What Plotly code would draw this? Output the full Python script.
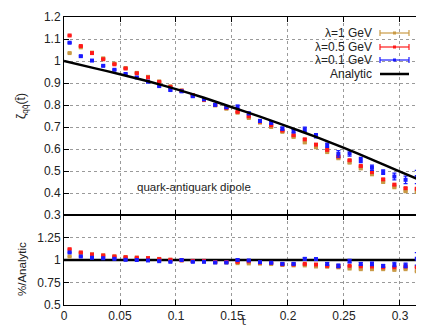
import plotly.graph_objects as go

# ---------------- data ----------------
t_bins = [0.005, 0.015, 0.025, 0.035, 0.045, 0.055, 0.065, 0.075, 0.085, 0.095,
          0.105, 0.115, 0.125, 0.135, 0.145, 0.155, 0.165, 0.175, 0.185, 0.195,
          0.205, 0.215, 0.225, 0.235, 0.245, 0.255, 0.265, 0.275, 0.285, 0.295,
          0.305, 0.315, 0.325]

zeta_l1 = [1.036, 1.062, 1.038, 1.012, 0.988, 0.968, 0.946, 0.928, 0.907, 0.885,
           0.866, 0.845, 0.822, 0.798, 0.783, 0.765, 0.741, 0.720, 0.700, 0.678,
           0.655, 0.630, 0.608, 0.586, 0.558, 0.538, 0.512, 0.485, 0.450, 0.426,
           0.408, 0.404, 0.398]
zeta_l05 = [1.116, 1.068, 1.036, 1.008, 0.985, 0.966, 0.944, 0.925, 0.905, 0.882,
            0.865, 0.845, 0.824, 0.800, 0.787, 0.769, 0.749, 0.725, 0.708, 0.684,
            0.663, 0.644, 0.620, 0.596, 0.566, 0.549, 0.523, 0.495, 0.462, 0.438,
            0.422, 0.419, 0.412]
zeta_l01 = [1.083, 1.022, 1.002, 0.978, 0.960, 0.941, 0.925, 0.906, 0.886, 0.868,
            0.862, 0.840, 0.826, 0.801, 0.790, 0.792, 0.762, 0.728, 0.719, 0.693,
            0.681, 0.689, 0.660, 0.617, 0.578, 0.579, 0.550, 0.515, 0.495, 0.475,
            0.460, 0.473, 0.430]
err_l1 = [0.002] * 20 + [0.003] * 13
err_l05 = [0.002] * 20 + [0.003] * 13
err_l01 = [0.003, 0.003, 0.003, 0.003, 0.003, 0.004, 0.004, 0.004, 0.004, 0.004,
           0.005, 0.005, 0.005, 0.005, 0.006, 0.008, 0.006, 0.006, 0.006, 0.007,
           0.008, 0.010, 0.010, 0.010, 0.015, 0.012, 0.012, 0.012, 0.010, 0.015,
           0.017, 0.030, 0.035]

ratio_l1 = [1.039, 1.075, 1.063, 1.052, 1.040, 1.032, 1.026, 1.022, 1.012, 1.003,
            0.996, 0.988, 0.985, 0.975, 0.972, 0.965, 0.962, 0.960, 0.955, 0.945,
            0.940, 0.940, 0.928, 0.925, 0.918, 0.905, 0.898, 0.898, 0.898, 0.890,
            0.898, 0.875, 0.875]
ratio_l05 = [1.120, 1.084, 1.061, 1.050, 1.039, 1.031, 1.025, 1.020, 1.010, 1.002,
             0.997, 0.990, 0.990, 0.978, 0.978, 0.980, 0.985, 0.972, 0.968, 0.952,
             0.950, 0.957, 0.950, 0.935, 0.930, 0.936, 0.930, 0.928, 0.920, 0.920,
             0.928, 0.920, 0.950]
ratio_l01 = [1.084, 1.039, 1.025, 1.020, 1.013, 1.002, 1.000, 0.995, 0.987, 0.980,
             1.000, 0.980, 0.980, 0.972, 0.972, 1.000, 0.995, 0.976, 0.969, 0.957,
             0.957, 1.013, 1.010, 0.957, 0.935, 0.987, 0.957, 0.957, 0.935, 0.950,
             0.940, 1.013, 0.995]
rerr_l1 = [0.003] * 33
rerr_l05 = [0.003] * 33
rerr_l01 = [0.004, 0.004, 0.004, 0.004, 0.004, 0.004, 0.005, 0.005, 0.005, 0.005,
            0.006, 0.006, 0.006, 0.006, 0.007, 0.010, 0.008, 0.008, 0.008, 0.010,
            0.010, 0.015, 0.015, 0.015, 0.020, 0.020, 0.015, 0.020, 0.015, 0.025,
            0.025, 0.070, 0.085]

analytic_t = [0.0, 0.025, 0.05, 0.075, 0.1, 0.125, 0.15, 0.175, 0.2, 0.225,
              0.25, 0.275, 0.3, 0.33]
analytic_zeta = [1.0, 0.970, 0.940, 0.908, 0.872, 0.833, 0.790, 0.747, 0.702, 0.655,
                 0.605, 0.552, 0.497, 0.432]
analytic_ratio = [1.0] * len(analytic_t)

x_ticks = [0, 0.05, 0.1, 0.15, 0.2, 0.25, 0.3]
x_ticktext = ["0", "0.05", "0.1", "0.15", "0.2", "0.25", "0.3"]
y_top_ticks = [0.3, 0.4, 0.5, 0.6, 0.7, 0.8, 0.9, 1.0, 1.1, 1.2]
y_top_ticktext = ["0.3", "0.4", "0.5", "0.6", "0.7", "0.8", "0.9", "1", "1.1", "1.2"]
y_bot_ticks = [0.5, 0.75, 1.0, 1.25]
y_bot_ticktext = ["0.5", "0.75", "1", "1.25"]

series_names = ["λ=1 GeV", "λ=0.5 GeV", "λ=0.1 GeV", "Analytic"]

# ---------------- styling ----------------
C_OR = "#c99a45"
C_RED = "#ff1a1a"
C_BLUE = "#1a1aff"
FONT = "Liberation Sans"

W, H = 424, 328
ML, MR, MT, MB = 56, 0, 9, 31
PW, PH = W - ML - MR, H - MT - MB
SPLIT = 90 / PH  # bottom panel height fraction


def px_x(p):
    return (p - ML) / PW


def px_y(p):
    return (H - MB - p) / PH


fig = go.Figure()


def add_series(x, y, e, color, yaxis, xaxis):
    fig.add_trace(go.Scatter(
        x=x, y=y, mode="markers", xaxis=xaxis, yaxis=yaxis,
        marker=dict(symbol="square", size=4, color=color, line=dict(width=0)),
        error_y=dict(type="data", array=e, visible=True, color=color,
                     thickness=1.2, width=2),
        showlegend=False, hoverinfo="skip"))


# top panel
add_series(t_bins, zeta_l1, err_l1, C_OR, "y", "x")
add_series(t_bins, zeta_l05, err_l05, C_RED, "y", "x")
add_series(t_bins, zeta_l01, err_l01, C_BLUE, "y", "x")
fig.add_trace(go.Scatter(x=analytic_t, y=analytic_zeta, mode="lines",
                         line=dict(color="black", width=2.5, shape="spline", smoothing=0.5),
                         xaxis="x", yaxis="y", showlegend=False, hoverinfo="skip"))

# bottom panel
fig.add_trace(go.Scatter(x=analytic_t, y=analytic_ratio, mode="lines",
                         line=dict(color="black", width=2.5),
                         xaxis="x2", yaxis="y2", showlegend=False, hoverinfo="skip"))
add_series(t_bins, ratio_l1, rerr_l1, C_OR, "y2", "x2")
add_series(t_bins, ratio_l05, rerr_l05, C_RED, "y2", "x2")
add_series(t_bins, ratio_l01, rerr_l01, C_BLUE, "y2", "x2")

axis_common = dict(
    showline=True, linecolor="black", linewidth=1, mirror="ticks",
    ticks="inside", ticklen=5, tickcolor="black", tickwidth=1,
    showgrid=True, gridcolor="#9a9a9a", griddash="dot", gridwidth=1,
    zeroline=False, tickfont=dict(family=FONT, size=12, color="#222"),
)

XMAX = 0.3286
fig.update_layout(
    width=W, height=H,
    margin=dict(l=ML, r=MR, t=MT, b=MB),
    paper_bgcolor="white", plot_bgcolor="white",
    font=dict(family=FONT, size=12, color="#222"),
    xaxis=dict(domain=[0, 1], anchor="y", range=[0, XMAX], tickvals=x_ticks,
               ticktext=x_ticktext, showticklabels=False, **axis_common),
    yaxis=dict(domain=[SPLIT, 1], anchor="x", range=[0.3, 1.2], tickvals=y_top_ticks,
               ticktext=y_top_ticktext, **axis_common),
    xaxis2=dict(domain=[0, 1], anchor="y2", range=[0, XMAX], tickvals=x_ticks,
                ticktext=x_ticktext, matches="x", **axis_common),
    yaxis2=dict(domain=[0, SPLIT], anchor="x2", range=[0.5, 1.5], tickvals=y_bot_ticks,
                ticktext=y_bot_ticktext, **axis_common),
    showlegend=False,
)

annotations = []
shapes = []
# axis titles
annotations.append(dict(text="ζ<sub>qq̄</sub>(t̄)", x=px_x(14), y=px_y(98), xref="paper",
                        yref="paper", showarrow=False, textangle=-90,
                        font=dict(family=FONT, size=12, color="#222"),
                        xanchor="center", yanchor="middle"))
annotations.append(dict(text="%/Analytic", x=px_x(14), y=px_y(261), xref="paper",
                        yref="paper", showarrow=False, textangle=-90,
                        font=dict(family=FONT, size=11.5, color="#222"),
                        xanchor="center", yanchor="middle"))
annotations.append(dict(text="t̄", x=px_x(236), y=px_y(313), xref="paper",
                        yref="paper", showarrow=False, borderpad=0,
                        font=dict(family="DejaVu Sans", size=11, color="#222"),
                        xanchor="center", yanchor="middle"))
annotations.append(dict(text="quark-antiquark dipole", x=px_x(186), y=px_y(179),
                        xref="paper", yref="paper", showarrow=False,
                        font=dict(family=FONT, size=11.5, color="#222"),
                        xanchor="center", yanchor="middle"))

# custom gnuplot-style legend (text right, sample on the right)
leg_rows = [25, 39, 52, 66]
leg_colors = [C_OR, C_RED, C_BLUE, "black"]
for name, row, col in zip(series_names, leg_rows, leg_colors):
    annotations.append(dict(text=name, x=px_x(366), y=px_y(row), xref="paper",
                            yref="paper", showarrow=False, xanchor="right",
                            yanchor="middle",
                            font=dict(family=FONT, size=12, color="#222")))
    if col == "black":
        shapes.append(dict(type="line", xref="paper", yref="paper",
                           x0=px_x(372), x1=px_x(401), y0=px_y(row), y1=px_y(row),
                           line=dict(color="black", width=2.5)))
    else:
        shapes.append(dict(type="line", xref="paper", yref="paper",
                           x0=px_x(372), x1=px_x(401), y0=px_y(row), y1=px_y(row),
                           line=dict(color=col, width=1.2)))
        for xe in (372, 401):
            shapes.append(dict(type="line", xref="paper", yref="paper",
                               x0=px_x(xe), x1=px_x(xe), y0=px_y(row - 3),
                               y1=px_y(row + 3), line=dict(color=col, width=1.2)))
        shapes.append(dict(type="rect", xref="paper", yref="paper",
                           x0=px_x(385), x1=px_x(388), y0=px_y(row - 1.5),
                           y1=px_y(row + 1.5), line=dict(width=0), fillcolor=col))

fig.update_layout(annotations=annotations, shapes=shapes)

fig.write_html("out.html")
